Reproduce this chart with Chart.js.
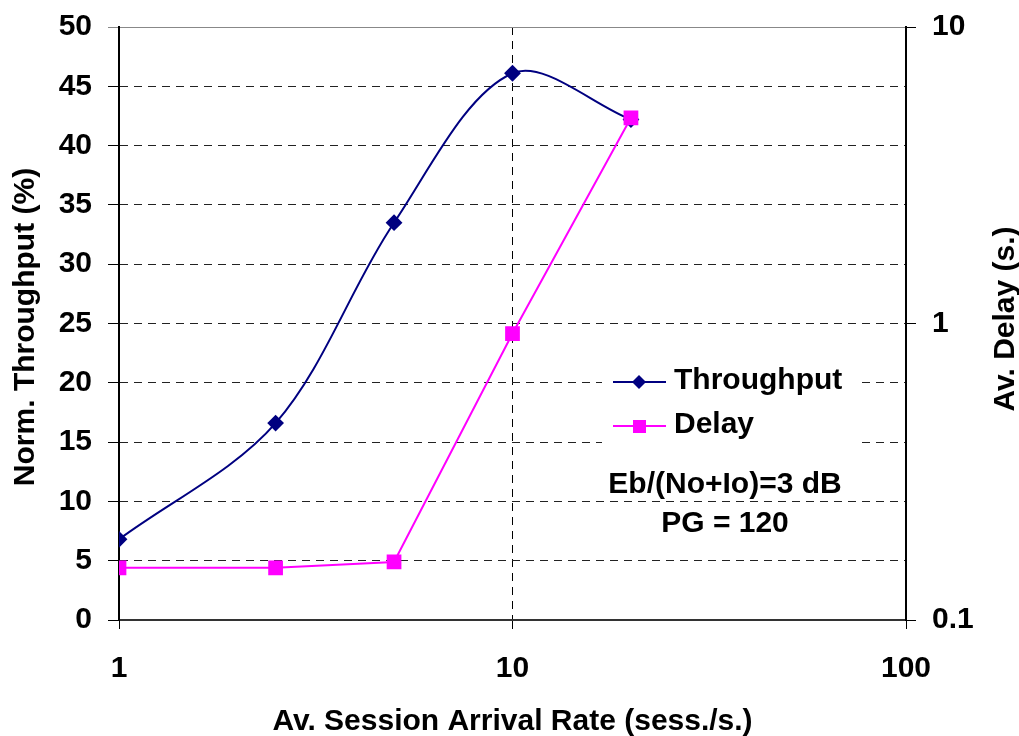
<!DOCTYPE html>
<html lang="en">
<head>
<meta charset="UTF-8">
<title>Throughput and Delay vs Session Arrival Rate</title>
<script src="https://cdn.jsdelivr.net/npm/chart.js"></script>
<style>
  html, body { margin: 0; padding: 0; background: #fff; }
  #wrap { width: 1019px; height: 736px; }
</style>
</head>
<body>
<div id="wrap"><canvas id="chart"></canvas></div>
<script>
// session arrival rate (sess./s.)
const arrivalRates = [1, 2.5, 5, 10, 20]
// normalised throughput (%)
const throughput = [6.8, 16.6, 33.5, 46.1, 42.2]
// average delay (s.)
const delay = [0.15, 0.15, 0.157, 0.925, 4.94]

const xTicks = [1, 10, 100]
const delayTicks = [0.1, 1, 10]

const FONT = "bold 30px 'Liberation Sans', Arial, Helvetica, sans-serif"
const NAVY = '#000080'
const MAGENTA = '#FF00FF'

Chart.defaults.font.family = "'Liberation Sans', Arial, Helvetica, sans-serif"
Chart.defaults.font.size = 30
Chart.defaults.font.weight = 'bold'
Chart.defaults.color = '#000'

// fixed axis sizes so the plot area lands at the same place every time
const fixWidth = (w) => (s) => { s.width = w; s.paddingTop = 0; s.paddingBottom = 0 }
const fixHeight = (h) => (s) => { s.height = h; s.paddingLeft = 0; s.paddingRight = 0 }

// titles, legend and the operating-point note are drawn by hand
const extras = {
  id: 'extras',
  afterDatasetsDraw(chart) {
    const { ctx, chartArea } = chart
    ctx.save()
    ctx.font = FONT

    // legend box
    ctx.fillStyle = '#fff'
    ctx.fillRect(602, 352, 258, 102)

    ctx.lineWidth = 2
    ctx.strokeStyle = NAVY
    ctx.beginPath(); ctx.moveTo(613, 382); ctx.lineTo(666, 382); ctx.stroke()
    ctx.fillStyle = NAVY
    ctx.beginPath()
    ctx.moveTo(639, 375); ctx.lineTo(646, 382); ctx.lineTo(639, 389); ctx.lineTo(632, 382)
    ctx.closePath(); ctx.fill()

    ctx.strokeStyle = MAGENTA
    ctx.beginPath(); ctx.moveTo(613, 426); ctx.lineTo(666, 426); ctx.stroke()
    ctx.fillStyle = MAGENTA
    ctx.fillRect(633, 420, 13, 13)

    ctx.fillStyle = '#000'
    ctx.textAlign = 'left'
    ctx.textBaseline = 'alphabetic'
    ctx.fillText('Throughput', 674, 389)
    ctx.fillText('Delay', 674, 433)

    ctx.textAlign = 'center'
    ctx.fillText('Eb/(No+Io)=3 dB', 725, 493)
    ctx.fillText('PG = 120', 725, 532)

    // axis titles
    const midX = (chartArea.left + chartArea.right) / 2
    ctx.fillText('Av. Session Arrival Rate (sess./s.)', midX, 730)

    ctx.save()
    ctx.translate(34, 327)
    ctx.rotate(-Math.PI / 2)
    ctx.fillText('Norm. Throughput (%)', 0, 0)
    ctx.restore()

    ctx.save()
    ctx.translate(1014, 319)
    ctx.rotate(-Math.PI / 2)
    ctx.fillText('Av. Delay (s.)', 0, 0)
    ctx.restore()

    ctx.restore()
  }
}

new Chart(document.getElementById('chart'), {
  type: 'line',
  data: {
    datasets: [
      {
        label: 'Throughput',
        data: arrivalRates.map((x, i) => ({ x, y: throughput[i] })),
        yAxisID: 'y',
        borderColor: NAVY,
        backgroundColor: NAVY,
        borderWidth: 2,
        pointStyle: 'rectRot',
        pointRadius: 7,
        tension: 0.33,
        order: 1
      },
      {
        label: 'Delay',
        data: arrivalRates.map((x, i) => ({ x, y: delay[i] })),
        yAxisID: 'y2',
        borderColor: MAGENTA,
        backgroundColor: MAGENTA,
        borderWidth: 2,
        pointStyle: 'rect',
        pointRadius: 9,
        tension: 0,
        order: 0
      }
    ]
  },
  options: {
    responsive: true,
    maintainAspectRatio: false,
    animation: false,
    layout: { padding: { top: 27, left: 0, right: 0, bottom: 0 } },
    plugins: {
      legend: { display: false },
      tooltip: { enabled: false }
    },
    scales: {
      x: {
        type: 'logarithmic',
        min: 1,
        max: 100,
        afterFit: fixHeight(116),
        afterBuildTicks: (s) => { s.ticks = xTicks.map((value) => ({ value, major: true })) },
        ticks: {
          autoSkip: false,
          maxRotation: 0,
          padding: 22,
          callback: (v) => String(v)
        },
        grid: {
          color: (c) => (c.tick && c.tick.value === 10 ? '#000' : 'rgba(0,0,0,0)'),
          tickColor: '#000',
          tickLength: 9,
          lineWidth: 1,
          tickBorderDash: []
        },
        border: { color: '#333', width: 2, dash: [8, 6] }
      },
      y: {
        position: 'left',
        min: 0,
        max: 50,
        afterFit: fixWidth(119),
        ticks: { stepSize: 5, padding: 16, autoSkip: false },
        grid: {
          color: (c) => {
            if (!c.tick) return '#222'
            if (c.tick.value === 0) return 'rgba(0,0,0,0)'
            if (c.tick.value === 50) return '#888'
            return '#222'
          },
          tickColor: (c) => (c.tick && c.tick.value === 50 ? '#888' : '#000'),
          tickLength: 11,
          lineWidth: 1,
          tickBorderDash: []
        },
        border: {
          color: '#000',
          width: 2,
          dash: (c) => (c.tick && c.tick.value === 50 ? [] : [8, 6])
        }
      },
      y2: {
        type: 'logarithmic',
        position: 'right',
        min: 0.1,
        max: 10,
        afterFit: fixWidth(113),
        afterBuildTicks: (s) => { s.ticks = delayTicks.map((value) => ({ value, major: true })) },
        ticks: {
          padding: 16,
          autoSkip: false,
          callback: (v) => String(v)
        },
        grid: {
          drawOnChartArea: false,
          tickColor: '#000',
          tickLength: 10,
          tickBorderDash: []
        },
        border: { color: '#000', width: 2 }
      }
    }
  },
  plugins: [extras]
})
</script>
</body>
</html>
